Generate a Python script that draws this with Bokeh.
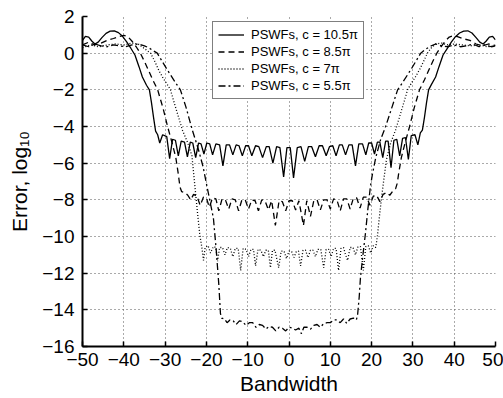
from bokeh.plotting import figure
from bokeh.models import FixedTicker
from bokeh.embed import file_html
from bokeh.resources import INLINE

# ---------------- data ----------------
x_ticks = [-50, -40, -30, -20, -10, 0, 10, 20, 30, 40, 50]
y_ticks = [2, 0, -2, -4, -6, -8, -10, -12, -14, -16]

labels = ["PSWFs, c = 10.5\u03c0", "PSWFs, c = 8.5\u03c0",
          "PSWFs, c = 7\u03c0", "PSWFs, c = 5.5\u03c0"]

# c = 10.5 pi (solid)
s_x = [-50, -49.3, -48.5, -47.7, -47, -46.2, -45.3, -44.3, -43.3, -42.3, -41.3, -40.3, -39.3,
       -38.3, -37.3, -36.3, -35.5, -34.5, -33.8, -33.3, -32.8, -32.3,
       -31.8, -31.3, -30.6, -29.6, -28.9, -28.2, -27.5, -26.8, -26.1, -25.3, -24.6, -23.9, -23.3,
       -22.6, -21.9, -21.3, -20.6, -19.9, -19.2, -18.5, -17.7, -16.8, -16.0, -15.2, -14.4, -13.6,
       -12.8, -12.1, -11.3, -10.5, -9.8, -9.0, -8.1, -7.3, -6.4, -5.5, -4.8, -3.9, -3.0, -2.2,
       -1.3, -0.5, 0.3, 1.1, 2.0, 2.9, 3.8, 4.7, 5.5, 6.4, 7.3, 8.1, 9.0, 9.8, 10.6, 11.4, 12.2,
       12.9, 13.7, 14.5, 15.3, 16.1, 16.9, 17.8, 18.6, 19.3, 20.0, 20.7, 21.4, 22.0, 22.7, 23.4,
       24.0, 24.7, 25.4, 26.1, 26.8, 27.5, 28.2, 28.9, 29.6, 30.5, 31.2, 31.8, 32.3,
       32.8, 33.3, 33.8, 34.5, 35.5, 36.3, 37.3, 38.3, 39.3, 40.3, 41.3, 42.3, 43.3, 44.3, 45.3,
       46.2, 47, 47.7, 48.5, 49.3, 50]
s_y = [0.7, 0.92, 0.88, 0.65, 0.5, 0.6, 0.85, 1.08, 1.2, 1.22, 1.12, 0.92, 0.62,
       0.27, -0.1, -0.75, -1.3, -1.75, -2.0, -2.7, -3.5, -4.25,
       -4.45, -4.9, -4.45, -4.55, -5.75, -4.7, -4.75, -5.6, -4.8, -4.85, -5.65, -4.85, -4.9,
       -5.7, -4.9, -4.95, -5.5, -4.9, -4.95, -5.55, -4.95, -5.0, -6.15, -5.0, -5.0, -5.55,
       -5.0, -5.05, -5.6, -5.05, -5.05, -5.6, -5.05, -5.1, -5.7, -5.1, -5.1, -6.0, -5.1, -5.15,
       -6.75, -5.15, -5.15, -6.8, -5.15, -5.1, -5.9, -5.1, -5.1, -5.65, -5.05, -5.05, -5.6, -5.1, -5.05, -5.6, -5.0,
       -5.0, -5.55, -5.0, -5.0, -6.15, -4.95, -4.95, -5.55, -4.9, -4.9, -5.5, -4.85, -4.85, -5.7, -4.8,
       -4.8, -6.25, -4.75, -4.7, -5.6, -4.65, -4.6, -5.8, -4.5, -4.45, -5.0, -4.35, -4.2,
       -3.5, -2.7, -2.0, -1.7, -1.3, -0.75, -0.1, 0.25, 0.6, 0.9, 1.1, 1.2, 1.22, 1.1, 0.85,
       0.6, 0.5, 0.65, 0.88, 0.92, 0.72]

# c = 8.5 pi (dashed)
d_x = [-50, -48.5, -47, -45.5, -44, -42.5, -41, -40, -39, -38, -37, -36, -35, -34, -33,
       -31.8, -30.5, -29.4, -28.3, -27.4, -26.8, -26.4, -26.0,
       -25.2, -24.5, -23.8, -23.1, -22.3, -21.5, -20.7, -20.0, -19.3, -18.5, -17.7, -17.0, -16.2,
       -15.4, -14.6, -13.8, -13.0, -12.2, -11.4, -10.6, -9.8, -9.0, -8.2, -7.4, -6.6, -5.8, -5.0,
       -4.2, -3.3, -2.4, -1.6, -0.8, 0.0, 0.8, 1.6, 2.4, 3.5, 4.3, 5.2, 6.0, 6.8, 7.6, 8.4, 9.2,
       10.0, 10.8, 11.6, 12.4, 13.2, 14.0, 14.8, 15.6, 16.4, 17.2, 18.0, 18.8, 19.6, 20.4, 21.2,
       22.0, 22.8, 23.6, 24.4, 25.2, 25.8,
       26.2, 26.6, 27.2, 28.1, 29.2, 30.3, 31.6, 32.8, 33.8, 34.8, 35.8, 36.8, 37.8, 38.8, 39.8,
       40.8, 42.3, 43.8, 45.3, 46.8, 48.3, 50]
d_y = [0.45, 0.6, 0.45, 0.55, 0.7, 0.8, 0.92, 0.97, 0.9, 0.65, 0.35, 0.0, -0.45, -0.95, -1.45,
       -2.0, -3.0, -4.0, -4.9, -5.7, -6.6, -7.3, -7.55,
       -7.6, -7.75, -8.0, -7.7, -7.8, -8.3, -7.85, -7.9, -8.4, -7.9, -7.95, -8.6, -7.95,
       -8.0, -8.5, -7.95, -8.0, -8.6, -8.0, -8.0, -8.5, -8.0, -8.05, -8.6, -8.0, -8.05, -8.55,
       -8.05, -9.4, -8.05, -8.1, -8.6, -8.05, -8.05, -8.55, -8.05, -9.4, -8.05, -8.9, -8.05, -8.0, -8.55, -8.0, -8.0,
       -8.5, -7.95, -8.0, -8.6, -7.95, -7.95, -8.5, -7.9, -7.9, -8.45, -7.85, -7.85, -8.3, -7.8, -7.75,
       -8.1, -7.7, -7.6, -7.75, -7.5, -7.4,
       -7.1, -6.5, -5.7, -4.9, -4.0, -3.0, -2.0, -1.45, -0.95, -0.45, 0.0, 0.35, 0.65, 0.88, 0.95,
       0.9, 0.78, 0.7, 0.5, 0.4, 0.5, 0.42]

# c = 7 pi (dotted)
t_x = [-50, -48, -46, -44, -42, -40, -38, -36.5, -35, -33.5, -32.5, -31.5, -30.5, -29.5, -28.7,
       -27.8, -26.8, -25.8, -24.5, -23.5, -22.9, -22.2, -21.6, -21.1,
       -20.7, -20.3, -19.6, -19.0, -18.3, -17.7, -17.3, -16.8, -16.1, -15.5, -14.9, -14.2, -13.6,
       -13.0, -12.3, -11.7, -11.1, -10.4, -9.8, -9.2, -8.6, -8.1, -7.5, -6.8, -6.2, -5.6, -5.0,
       -4.5, -4.0, -3.4, -2.5, -1.9, -1.2, -0.6, 0.0, 0.6, 1.2, 1.8, 2.3, 2.8, 3.4, 4.0, 4.6, 5.2,
       5.8, 6.4, 7.0, 7.7, 8.4, 9.0, 9.6, 10.2, 10.8, 11.4, 12.0, 12.6, 13.2, 13.7, 14.2, 14.8,
       15.5, 16.1, 16.7, 17.3, 18.0, 18.6, 19.2, 19.8, 20.4, 21.0,
       21.4, 21.9, 22.4, 22.9, 23.6, 24.6, 25.8, 26.8, 27.8, 28.7, 29.6, 30.6, 31.6, 32.6, 33.5,
       34.5, 35.5, 37, 38.5, 40, 42, 44, 46, 48, 50]
t_y = [0.3, 0.45, 0.35, 0.45, 0.5, 0.45, 0.55, 0.5, 0.25, 0.0, -0.45, -0.95, -1.35, -1.7, -2.0,
       -2.7, -3.45, -4.2, -4.9, -5.6, -7.0, -8.6, -9.9, -10.6,
       -11.3, -10.6, -10.5, -10.9, -10.55, -10.6, -11.35, -10.6, -10.6, -11.0, -10.6, -10.65, -11.1,
       -10.65, -10.65, -11.85, -10.65, -10.7, -11.1, -10.7, -10.7, -11.6, -10.7, -10.75, -11.1, -10.75, -10.75,
       -11.7, -10.75, -10.75, -11.7, -10.8, -10.8, -11.2, -10.8, -10.8, -11.15, -10.8, -10.8, -11.6, -10.75, -10.75, -11.15, -10.75,
       -10.75, -11.1, -10.7, -10.7, -11.7, -10.7, -10.7, -11.1, -10.65, -10.65, -11.85, -10.65, -10.6, -11.0, -11.3, -10.6,
       -10.6, -11.0, -10.55, -10.55, -11.85, -10.55, -10.5, -10.9, -10.5, -10.6,
       -10.0, -8.9, -7.9, -7.0, -5.8, -4.9, -4.2, -3.45, -2.7, -2.0, -1.65, -1.3, -0.9, -0.45, 0.0,
       0.3, 0.5, 0.55, 0.45, 0.5, 0.45, 0.4, 0.45, 0.35, 0.4]

# c = 5.5 pi (dash-dot)
u_x = [-50, -48.5, -47, -45.5, -44, -42.5, -41, -39.5, -38, -36.5, -35, -34, -33, -31.9,
       -29.5, -27.5, -26.3, -25.0, -23.4, -22.0, -20.8, -20.1, -19.2, -18.3, -17.6, -17.0, -16.6,
       -16.3, -15.6, -15.0, -14.3, -13.5, -12.8, -12.0, -11.2, -10.4, -9.6, -8.8, -8.0, -7.2,
       -6.4, -5.6, -4.8, -4.0, -3.2, -2.4, -1.6, -0.8, 0.0, 0.8, 1.6, 2.4, 3.0, 3.6, 4.4, 5.2,
       6.0, 6.8, 7.6, 8.4, 9.2, 10.0, 10.8, 11.6, 12.4, 13.2, 14.0, 14.8, 15.6, 16.3, 16.6,
       17.0, 17.3, 17.9, 18.5, 19.1, 19.7, 20.2, 21.0, 22.2, 23.4, 25.0, 26.3, 27.5, 29.5, 31.9,
       33, 34, 35.5, 37, 38.5, 40, 41.5, 43, 44.5, 46, 47.5, 49, 50]
u_y = [0.45, 0.35, 0.5, 0.4, 0.35, 0.45, 0.4, 0.35, 0.45, 0.5, 0.4, 0.3, 0.15, 0.0,
       -0.9, -1.6, -2.0, -2.9, -4.2, -5.2, -6.2, -7.0, -8.0, -9.0, -10.8, -12.6, -14.2,
       -14.45, -14.5, -14.7, -14.55, -14.6, -14.8, -14.6, -14.65, -14.85, -14.7, -14.7, -14.95, -14.8,
       -14.85, -15.05, -14.9, -14.95, -15.15, -14.95, -15.0, -15.15, -14.95, -15.0, -15.1, -15.0, -15.3, -14.95, -14.95, -15.05,
       -14.85, -14.8, -14.95, -14.75, -14.7, -14.7, -14.55, -14.55, -14.7, -14.5, -14.75, -14.5, -14.45, -14.55, -14.3,
       -13.3, -12.25, -11.0, -9.85, -8.5, -7.3, -6.6, -5.7, -4.7, -4.0, -2.9, -2.0, -1.6, -0.9, 0.0,
       0.2, 0.35, 0.5, 0.4, 0.35, 0.45, 0.35, 0.4, 0.5, 0.35, 0.45, 0.35, 0.4]

# ---------------- figure ----------------
FONT = "Liberation Sans"

p = figure(width=503, height=398, output_backend="svg", toolbar_location=None,
           x_range=(-50, 50), y_range=(-16, 2),
           min_border_left=82, min_border_right=8, min_border_top=16, min_border_bottom=52)
p.outline_line_color = None
p.background_fill_color = "white"
p.border_fill_color = "white"

p.xaxis.ticker = FixedTicker(ticks=x_ticks)
p.yaxis.ticker = FixedTicker(ticks=y_ticks)
p.xaxis.major_label_overrides = {t: str(t).replace("-", "\u2212") for t in x_ticks}
p.yaxis.major_label_overrides = {t: str(t).replace("-", "\u2212") for t in y_ticks}

for ax in (p.xaxis, p.yaxis):
    ax.axis_line_width = 2
    ax.axis_line_color = "black"
    ax.major_tick_in = 5
    ax.major_tick_out = 0
    ax.major_tick_line_width = 1.5
    ax.major_tick_line_color = "black"
    ax.minor_tick_line_color = None
    ax.major_label_text_font = FONT
    ax.major_label_text_font_size = "19px"
    ax.major_label_text_color = "black"
    ax.axis_label_text_font = FONT
    ax.axis_label_text_font_size = "21px"
    ax.axis_label_text_font_style = "normal"
    ax.axis_label_text_color = "black"

p.xaxis.axis_label = "Bandwidth"
p.yaxis.axis_label = "Error, log\u2081\u2080"
p.xaxis.major_label_standoff = 6
p.xaxis.axis_label_standoff = 3
p.yaxis.major_label_standoff = 8
p.yaxis.axis_label_standoff = 8

p.grid.grid_line_color = "#555555"
p.grid.grid_line_dash = "1 3"
p.grid.grid_line_width = 1

lw = 1.3
p.line(s_x, s_y, line_color="black", line_width=lw, legend_label=labels[0])
p.line(d_x, d_y, line_color="black", line_width=lw, line_dash="6 4", legend_label=labels[1])
p.line(t_x, t_y, line_color="black", line_width=lw, line_dash="1 2", legend_label=labels[2])
p.line(u_x, u_y, line_color="black", line_width=lw, line_dash="7 3 2 3", legend_label=labels[3])

lg = p.legend[0]
lg.location = (130, 247)
lg.label_text_font = FONT
lg.label_text_font_size = "13px"
lg.label_text_color = "black"
lg.label_height = 15
lg.glyph_height = 15
lg.glyph_width = 26
lg.label_standoff = 7
lg.spacing = 2
lg.padding = 5
lg.margin = 0
lg.border_line_color = "black"
lg.border_line_width = 1.5
lg.background_fill_color = "white"
lg.background_fill_alpha = 1.0

open("out.html", "w").write(file_html(p, INLINE))
